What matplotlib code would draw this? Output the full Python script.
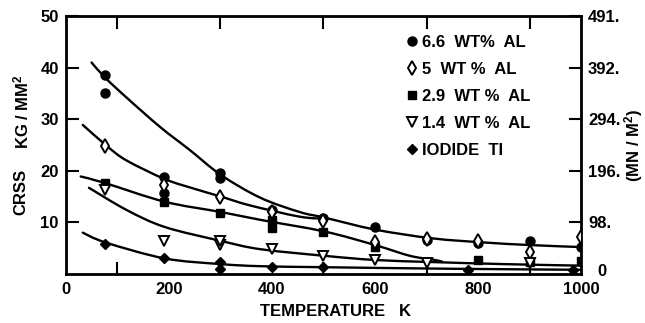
import matplotlib
matplotlib.use("Agg")
import matplotlib.pyplot as plt
from matplotlib.path import Path
from matplotlib.patches import PathPatch

# ---- data points (temperature K, CRSS kg/mm^2) ----
al66_T = [77, 77, 190, 190, 300, 300, 400, 500, 600, 700, 800, 900, 1000]
al66_V = [38.5, 35.0, 18.8, 15.6, 19.6, 18.6, 12.3, 10.9, 9.1, 6.6, 6.0, 6.4, 5.3]

al5_T = [77, 190, 300, 400, 500, 600, 700, 800, 900, 1000]
al5_V = [24.8, 17.3, 15.0, 12.0, 10.2, 6.1, 6.8, 6.3, 4.3, 7.2]

al29_T = [77, 190, 300, 400, 400, 500, 600, 800, 900, 1000]
al29_V = [17.6, 13.9, 11.9, 10.4, 9.0, 8.2, 5.2, 2.7, 2.4, 2.5]

al14_T = [77, 190, 300, 300, 400, 500, 600, 700, 900]
al14_V = [16.2, 6.3, 5.6, 6.3, 4.8, 3.5, 2.7, 2.1, 2.2]

ti_T = [77, 190, 300, 300, 400, 500, 780, 985]
ti_V = [5.8, 3.0, 2.4, 1.0, 1.4, 1.4, 0.8, 0.8]

# ---- fitted curves ----
c66_T = [50, 77, 118, 183, 241, 301, 377, 454, 503, 600, 711, 811, 900, 1000]
c66_V = [41.0, 38.0, 34.2, 28.5, 24.0, 19.2, 14.8, 12.0, 10.9, 8.6, 6.9, 6.1, 5.6, 5.2]

c5_T = [33, 81, 118, 192, 250, 301, 357, 454, 505]
c5_V = [28.9, 24.7, 22.0, 18.4, 16.5, 15.0, 13.3, 11.1, 10.7]

c29_T = [29, 77, 192, 301, 377, 503, 600, 668, 711, 730]
c29_V = [18.9, 17.6, 14.0, 12.0, 10.5, 8.2, 5.6, 3.5, 2.8, 2.4]

c14_T = [45, 118, 192, 301, 377, 503, 600, 711, 850, 1000]
c14_V = [16.7, 12.4, 9.1, 6.4, 4.8, 3.5, 2.7, 2.3, 1.9, 1.6]

cti_T = [33, 77, 192, 301, 377, 500, 746, 1000]
cti_V = [8.0, 6.1, 3.0, 1.9, 1.5, 1.3, 1.0, 0.8]

labels = ["6.6  WT%  AL", "5  WT %  AL", "2.9  WT %  AL", "1.4  WT %  AL", "IODIDE  TI"]
x_ticks = [0, 200, 400, 600, 800, 1000]
y_ticks = [10, 20, 30, 40, 50]
right_labels = ["", "98.", "196.", "294.", "392.", "491."]

FONT = ['Liberation Sans', 'DejaVu Sans']
plt.rcParams['font.family'] = FONT
plt.rcParams['font.weight'] = 'bold'
plt.rcParams['mathtext.fontset'] = 'custom'
plt.rcParams['mathtext.rm'] = 'Liberation Sans:bold'
plt.rcParams['mathtext.it'] = 'Liberation Sans:bold'
plt.rcParams['mathtext.bf'] = 'Liberation Sans:bold'

fig = plt.figure(figsize=(6.45, 3.23), dpi=100)
ax = fig.add_axes([0.102, 0.152, 0.799, 0.798])


def smooth_path(xs, ys):
    pts = list(zip(xs, ys))
    n = len(pts)
    verts = [pts[0]]
    codes = [Path.MOVETO]
    for i in range(n - 1):
        p0 = pts[i - 1] if i > 0 else pts[i]
        p1 = pts[i]
        p2 = pts[i + 1]
        p3 = pts[i + 2] if i + 2 < n else pts[i + 1]
        c1 = (p1[0] + (p2[0] - p0[0]) / 6.0, p1[1] + (p2[1] - p0[1]) / 6.0)
        c2 = (p2[0] - (p3[0] - p1[0]) / 6.0, p2[1] - (p3[1] - p1[1]) / 6.0)
        verts += [c1, c2, p2]
        codes += [Path.CURVE4] * 3
    return Path(verts, codes)


for T, V in [(c66_T, c66_V), (c5_T, c5_V), (c29_T, c29_V), (c14_T, c14_V), (cti_T, cti_V)]:
    ax.add_patch(PathPatch(smooth_path(T, V), fill=False, edgecolor='black',
                           lw=1.7, zorder=2, capstyle='round'))

h1, = ax.plot(al66_T, al66_V, 'o', ms=6.5, color='black', ls='none', zorder=3)
h2, = ax.plot(al5_T, al5_V, 'd', ms=7.5, mfc='white', mec='black', mew=1.4, ls='none', zorder=4)
h3, = ax.plot(al29_T, al29_V, 's', ms=6, color='black', ls='none', zorder=3)
h4, = ax.plot(al14_T, al14_V, 'v', ms=7, mfc='white', mec='black', mew=1.4, ls='none', zorder=4)
h5, = ax.plot(ti_T, ti_V, 'D', ms=5.5, color='black', ls='none', zorder=3)

ax.set_xlim(0, 1000)
ax.set_ylim(0, 50)
ax.set_xticks(x_ticks)
ax.set_xticks(range(100, 1000, 100), minor=True)
ax.set_yticks(y_ticks)
ax.tick_params(axis='both', which='both', direction='in', length=9, width=1.5,
               top=True, labelsize=12, pad=5)
ax.tick_params(axis='x', which='major', length=0, pad=6)
ax.tick_params(axis='y', right=False)
for s in ax.spines.values():
    s.set_linewidth(2)

ax2 = ax.twinx()
ax2.set_ylim(0, 50)
ax2.set_yticks([0, 10, 20, 30, 40, 50])
ax2.set_yticklabels(right_labels)
ax2.tick_params(axis='y', direction='in', length=9, width=1.5, labelsize=12, pad=5)
ax2.annotate("0", xy=(1, 0), xycoords='axes fraction', xytext=(11.5, 1.5),
             textcoords='offset points', ha='left', va='center', fontsize=12)

fig.text(336 / 645, 1 - 311 / 323, "TEMPERATURE   K", ha='center', va='center', fontsize=12)
fig.text(21 / 645, 1 - 192 / 323, "CRSS", rotation=90, ha='center', va='center', fontsize=12)
fig.text(21 / 645, 1 - 112 / 323, "KG / MM$^2$", rotation=90, ha='center', va='center', fontsize=12)
fig.text(634 / 645, 1 - 146 / 323, "(MN / M$^2$)", rotation=90, ha='center', va='center', fontsize=12)

leg = ax.legend([h1, h2, h3, h4, h5], labels, loc='upper left',
                bbox_to_anchor=(0.650, 0.953), frameon=False, fontsize=12,
                handlelength=0.6, handletextpad=0.3, labelspacing=0.72,
                borderaxespad=0)

fig.savefig("out.png", dpi=100)
